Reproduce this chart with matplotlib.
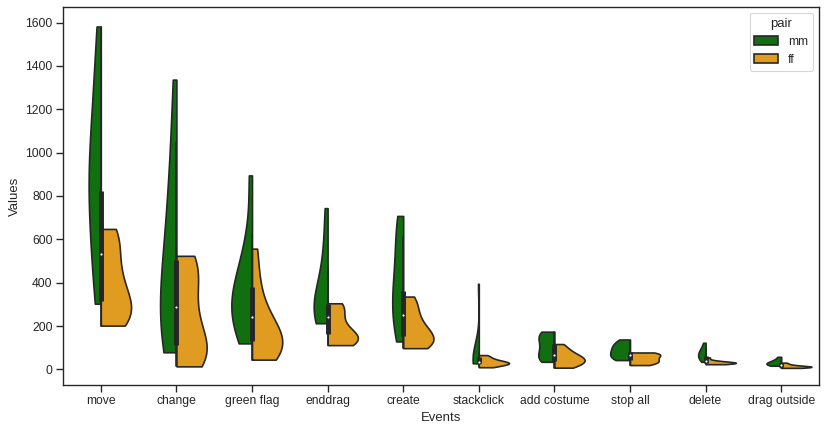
import numpy as np
import matplotlib
matplotlib.use("Agg")
import matplotlib.pyplot as plt
import matplotlib.patches as mpatches
import seaborn as sns

# values (one list per event and pair)
events = ['move', 'change', 'green flag', 'enddrag', 'create',
          'stackclick', 'add costume', 'stop all', 'delete', 'drag outside']

mm_values = [
    [303, 400, 520, 640, 740, 810, 870, 940, 1020, 1120, 1250, 1400, 1582],
    [79, 110, 150, 200, 260, 330, 410, 500, 600, 720, 860, 1050, 1337],
    [120, 160, 200, 240, 280, 310, 340, 380, 430, 500, 620, 895],
    [213, 225, 245, 270, 300, 330, 380, 460, 580, 744],
    [129, 170, 220, 270, 310, 350, 400, 460, 530, 610, 680, 708],
    [28, 30, 34, 40, 47, 55, 65, 80, 395],
    [35, 38, 45, 58, 72, 88, 104, 120, 136, 152, 165, 172, 174],
    [43, 48, 55, 65, 75, 85, 95, 105, 115, 128, 138],
    [35, 45, 55, 62, 70, 78, 88, 100, 123],
    [17, 20, 23, 26, 29, 33, 38, 45, 58],
]
ff_values = [
    [202, 212, 228, 248, 270, 292, 320, 360, 400, 440, 490, 545, 605, 640, 648],
    [14, 25, 40, 60, 85, 115, 150, 200, 260, 320, 380, 440, 490, 515, 524],
    [45, 55, 70, 90, 110, 130, 155, 180, 210, 250, 320, 420, 557],
    [112, 118, 126, 135, 145, 158, 175, 200, 240, 275, 300, 305],
    [98, 105, 115, 128, 142, 158, 175, 200, 230, 270, 310, 336],
    [10, 16, 21, 25, 28, 30, 32, 35, 40, 48, 57, 66],
    [8, 15, 25, 35, 42, 48, 55, 65, 78, 95, 117],
    [20, 24, 30, 36, 42, 48, 53, 63, 68, 72, 76, 78],
    [24, 26, 28, 29, 30, 31, 32, 34, 37, 42, 55],
    [7, 9, 10, 11, 12, 13, 14, 16, 19, 24, 31],
]


def kde(data, grid):
    # gaussian kde, scott bandwidth (same as scipy)
    d = np.asarray(data, dtype=float)
    bw = d.std(ddof=1) * len(d) ** (-1 / 5)
    z = (grid[:, None] - d[None, :]) / bw
    return np.exp(-0.5 * z ** 2).sum(axis=1) / (len(d) * bw * np.sqrt(2 * np.pi))


sns.set_theme(style='ticks')
plt.rcParams['font.family'] = ['Liberation Sans', 'DejaVu Sans']

dpi = 79
fig, ax = plt.subplots(figsize=(830 / dpi, 433 / dpi), dpi=dpi)
fig.subplots_adjust(left=63 / 830, right=819 / 830, top=1 - 7 / 433, bottom=1 - 385 / 433)

gray = '#262626'
lw = 1.5
c_mm = sns.desaturate('green', 0.75)
c_ff = sns.desaturate('orange', 0.75)
half = 0.4

for i, (mm, ff) in enumerate(zip(mm_values, ff_values)):
    s_mm = np.linspace(min(mm), max(mm), 100)
    s_ff = np.linspace(min(ff), max(ff), 100)
    d_mm = kde(mm, s_mm)
    d_ff = kde(ff, s_ff)
    # area scaling within each event (largest peak gets full width)
    top = max(d_mm.max(), d_ff.max())
    ax.fill_betweenx(s_mm, i, i - d_mm / top * half, facecolor=c_mm, edgecolor=gray, lw=lw)
    ax.fill_betweenx(s_ff, i, i + d_ff / top * half, facecolor=c_ff, edgecolor=gray, lw=lw)

    # inner box of both pairs together
    d = np.array(mm + ff, dtype=float)
    q25, q50, q75 = np.percentile(d, [25, 50, 75])
    lim = 1.5 * (q75 - q25)
    h1 = d[d >= q25 - lim].min()
    h2 = d[d <= q75 + lim].max()
    ax.plot([i, i], [h1, h2], lw=lw, color=gray)
    ax.plot([i, i], [q25, q75], lw=lw * 3, color=gray, solid_capstyle='butt')
    ax.scatter(i, q50, zorder=3, color='white', edgecolor=gray, s=(lw * 2) ** 2)

ax.set_xticks(range(len(events)))
ax.set_xticklabels(events)
ax.set_ylim(-72, 1672)
ax.set_xlim(-0.5, len(events) - 0.5)
ax.set_xlabel('Events')
ax.set_ylabel('Values')
handles = [mpatches.Patch(facecolor=c_mm, edgecolor=gray, lw=lw, label='mm'),
           mpatches.Patch(facecolor=c_ff, edgecolor=gray, lw=lw, label='ff')]
ax.legend(handles=handles, title='pair', loc='upper right')

fig.savefig('out.png', dpi=dpi)
